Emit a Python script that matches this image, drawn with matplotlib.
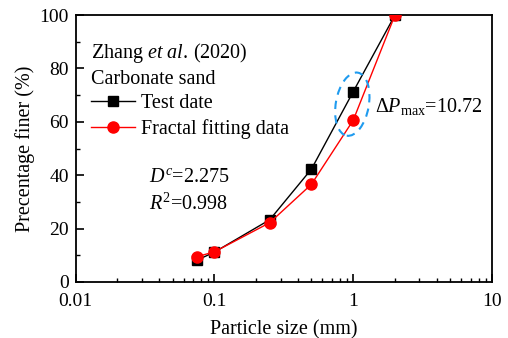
import matplotlib
matplotlib.use("Agg")
import matplotlib.pyplot as plt
from matplotlib.patches import Ellipse
from matplotlib.transforms import ScaledTranslation
from matplotlib.lines import Line2D
from matplotlib.ticker import LogLocator, FixedLocator, NullFormatter

size_mm = [0.075, 0.1, 0.25, 0.5, 1, 2]
test_data = [8.2, 11.2, 23.3, 42.3, 71.3, 100]
fractal_data = [9.5, 11.3, 22.2, 36.6, 60.6, 100]
xticks = [0.01, 0.1, 1, 10]
xticklabels = ["0.01", "0.1", "1", "10"]
yticks = [0, 20, 40, 60, 80, 100]

plt.rcParams['font.family'] = ['Liberation Serif', 'DejaVu Serif']
plt.rcParams['mathtext.fontset'] = 'custom'
plt.rcParams['mathtext.rm'] = 'Liberation Serif'
plt.rcParams['mathtext.it'] = 'Liberation Serif:italic'

FS = 14.5
TFS = 14

fig = plt.figure(figsize=(5.08, 3.38), dpi=100)
ax = fig.add_axes([75.7/508, 1-282/338, (492-75.7)/508, (282-15)/338])

ax.plot(size_mm, test_data, color='black', lw=1.0, marker='s', ms=7, zorder=3)
ax.plot(size_mm, fractal_data, color='red', lw=1.0, marker='o', ms=8, zorder=4)

ax.set_xscale('log')
ax.set_xlim(0.01, 10)
ax.set_ylim(0, 100)
ax.xaxis.set_major_locator(FixedLocator(xticks))
ax.set_xticklabels(xticklabels)
ax.xaxis.set_minor_locator(LogLocator(base=10, subs=range(2, 10)))
ax.xaxis.set_minor_formatter(NullFormatter())
ax.set_yticks(yticks)
ax.yaxis.set_minor_locator(FixedLocator([10, 30, 50, 70, 90]))
ax.tick_params(which='major', direction='in', length=6, width=1.2, labelsize=TFS)
ax.tick_params(axis='y', which='major', pad=5)
ax.tick_params(axis='x', which='major', pad=8)
ax.tick_params(which='minor', direction='in', length=3, width=1.0)
ax.tick_params(top=False, right=False, which='both')
for s in ax.spines.values():
    s.set_linewidth(1.3)

ax.set_xlabel('Particle size (mm)', fontsize=FS, labelpad=7)
ax.set_ylabel('Precentage finer (%)', fontsize=FS, labelpad=3)

ax.text(0.037, 0.858, r'Zhang $\it{et\ al.}\!$ (2020)', transform=ax.transAxes,
        fontsize=FS, va='center', ha='left')
ax.text(0.037, 0.757, 'Carbonate sand', transform=ax.transAxes,
        fontsize=FS, va='center', ha='left')

handles = [Line2D([], [], color='black', lw=1.0, marker='s', ms=7),
           Line2D([], [], color='red', lw=1.0, marker='o', ms=8)]
ax.legend(handles, ['Test date', 'Fractal fitting data'], loc='upper left',
          bbox_to_anchor=(0.037, 0.705), frameon=False, fontsize=FS,
          handlelength=2.2, handletextpad=0.3, labelspacing=0.33, borderaxespad=0,
          borderpad=0)

ax.text(0.176, 0.39, r'$D^{c}$=2.275', transform=ax.transAxes, fontsize=FS,
        va='center', ha='left')
ax.text(0.176, 0.29, r'$R^{2}$=0.998', transform=ax.transAxes, fontsize=FS,
        va='center', ha='left')
ax.text(1.43, 65.9, r'$\Delta P_{\rm max}$=10.72', fontsize=FS, va='center', ha='left')

trans = fig.dpi_scale_trans + ScaledTranslation(0.985, 66.6, ax.transData)
ell = Ellipse((0, 0), 0.33, 0.64, angle=-10, transform=trans, fill=False,
              edgecolor='#1f9bef', lw=1.5, linestyle=(0, (4, 3)), zorder=5)
ax.add_patch(ell)

fig.savefig('out.png', dpi=100)
